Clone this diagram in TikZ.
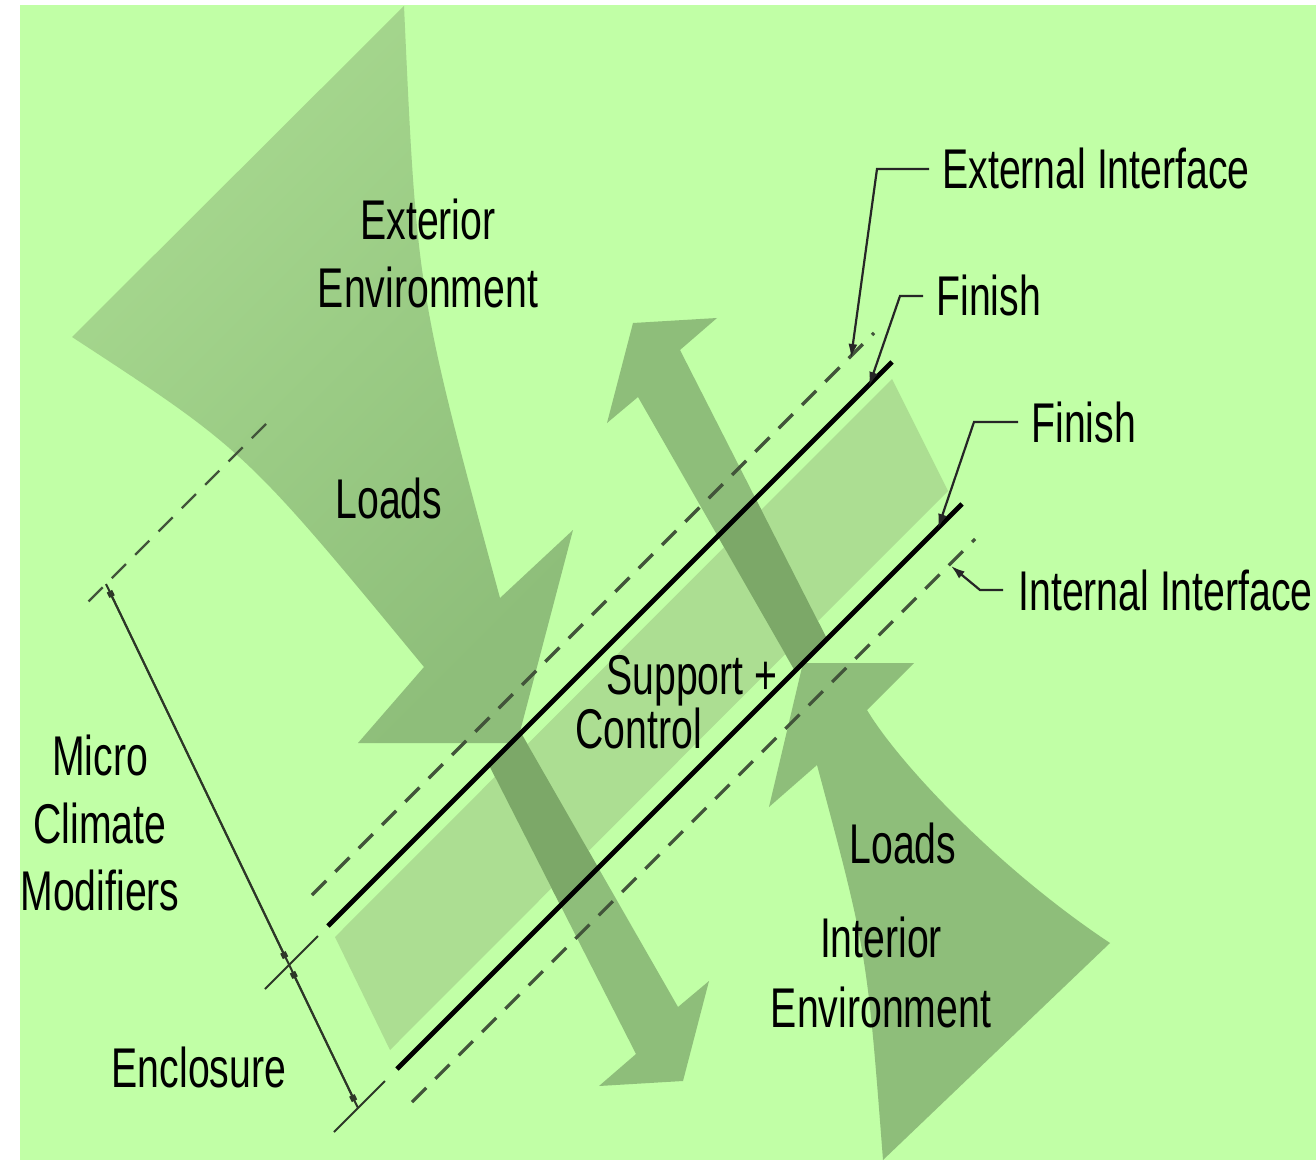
\documentclass[tikz,border=0pt]{standalone}
\usepackage{fontspec}
\setmainfont{Liberation Sans}[FakeStretch=0.70]
\usepackage{xcolor}
\usetikzlibrary{arrows.meta,calc}

\definecolor{bggreen}{RGB}{193,255,166}
\definecolor{fanlight}{RGB}{168,218,144}
\definecolor{fanmid}{RGB}{142,190,122}
\definecolor{bandgreen}{RGB}{172,222,146}
\definecolor{shaftdark}{RGB}{124,168,104}
\definecolor{dashgray}{RGB}{66,84,58}
\definecolor{dimgray}{RGB}{45,55,40}

\begin{document}
\begin{tikzpicture}[x=0.5pt, y=-0.5pt,
    lbl/.style={font=\fontsize{28}{33.75}\selectfont, inner sep=0pt, text=black},
    interface/.style={draw=dashgray, line width=1.6pt, dash pattern=on 10pt off 6.5pt},
    finish/.style={draw=black, line width=2.4pt},
    extline/.style={draw=dimgray, line width=1pt},
    dimline/.style={draw=dimgray, line width=1pt},
    dimticks/.style={{Square[length=3pt,width=3pt]}-{Square[length=3pt,width=3pt]}, shorten <=4pt, shorten >=4pt},
    leader/.style={draw=black!85, line width=1.1pt, -{Latex[length=7pt,width=4.5pt]}}]

    % Frame
    \useasboundingbox (0,0) rectangle (1316,1160);
    \fill[bggreen] (20,5) rectangle (1316,1160);

    % Exterior loads
    \shade[top color=fanlight, bottom color=fanmid, shading angle=45]
        (404,6) -- (72,337) .. controls (245,450) .. (424,667) -- (358,743)
        -- (517,743) -- (573,530) -- (500,598) .. controls (417,292) .. (404,6) -- cycle;

    % Interior loads
    \fill[fanmid] (803,663) -- (914,663) -- (867,710) .. controls (900,765) and (1000,870) .. (1110,943)
        -- (883,1160) .. controls (867,952) .. (817,765) -- (769,807) -- cycle;

    % Support + control arrows
    \fill[fanmid] (633,323) -- (717,318) -- (680,350) -- (827,639) -- (795,671) -- (638,397) -- (607,423) -- cycle;
    \fill[fanmid] (683,1081) -- (599,1086) -- (636,1054) -- (489,765) -- (521,733) -- (678,1007) -- (709,981) -- cycle;

    % Band between the finishes
    \fill[bandgreen] (335,937) -- (892,379) -- (948,491) -- (390,1050) -- cycle;

    % Shafts inside the wall
    \begin{scope}
        \clip (227,1027) -- (1027,227) -- (1133,333) -- (333,1133) -- cycle;
        \fill[shaftdark] (633,323) -- (717,318) -- (680,350) -- (827,639) -- (795,671) -- (638,397) -- (607,423) -- cycle;
        \fill[shaftdark] (683,1081) -- (599,1086) -- (636,1054) -- (489,765) -- (521,733) -- (678,1007) -- (709,981) -- cycle;
    \end{scope}

    % Interfaces
    \draw[interface] (312,895) -- (874,333);
    \draw[interface] (412,1102) -- (975,539);

    % Finishes
    \draw[finish] (328,926) -- (892,362);
    \draw[finish] (397,1069) -- (962,504);

    % Extension lines
    \draw[extline] (318,936) -- (265,989);
    \draw[extline] (385,1081) -- (334,1132);
    \draw[interface, line width=1.2pt] (266,424) -- (85,605);

    % Dimensions
    \coordinate (dimA) at (106,584);
    \coordinate (dimB) at (289,965);
    \coordinate (dimC) at (358,1108);
    \draw[dimline] (dimA) -- (dimC);
    \draw[dimline, dimticks] (dimA) -- (dimB);
    \draw[dimline, dimticks] (dimB) -- (dimC);

    % Labels
    \node[lbl, align=center] (extenv) at (428,253.5) {Exterior\\Environment};
    \node[lbl, anchor=base] (extloads) at (389,518) {Loads};
    \node[lbl, anchor=base west] (support) at (606,694) {Support +};
    \node[lbl, anchor=base west] (control) at (575,748) {Control};
    \node[lbl, align=center] (micro) at (100,823) {Micro\\Climate\\Modifiers};
    \node[lbl, anchor=base] (enclosure) at (199,1087) {Enclosure};
    \node[lbl, anchor=base] (intloads) at (903,863) {Loads};
    \node[lbl, align=center, font=\fontsize{28}{35}\selectfont] (intenv) at (881,972) {Interior\\Environment};
    \node[lbl, anchor=base west] (extiface) at (942,189) {External Interface};
    \node[lbl, anchor=base west] (finishout) at (936,316) {Finish};
    \node[lbl, anchor=base west] (finishin) at (1031,442) {Finish};
    \node[lbl, anchor=base west] (intiface) at (1018,610) {Internal Interface};

    % Leaders
    \coordinate (extpt) at (851,358);
    \coordinate (finoutpt) at (869,386);
    \coordinate (fininpt) at (938,528);
    \coordinate (intpt) at (951,566);
    \draw[leader] ([xshift=-6.5pt]extiface.west) -- ++(-52,0) -- (extpt);
    \draw[leader] ([xshift=-6.5pt]finishout.west) -- ++(-23,0) -- (finoutpt);
    \draw[leader] ([xshift=-6.5pt]finishin.west) -- ++(-44,0) -- (fininpt);
    \draw[leader] ([xshift=-7.5pt]intiface.west) -- ++(-23,0) -- (intpt);
\end{tikzpicture}
\end{document}
